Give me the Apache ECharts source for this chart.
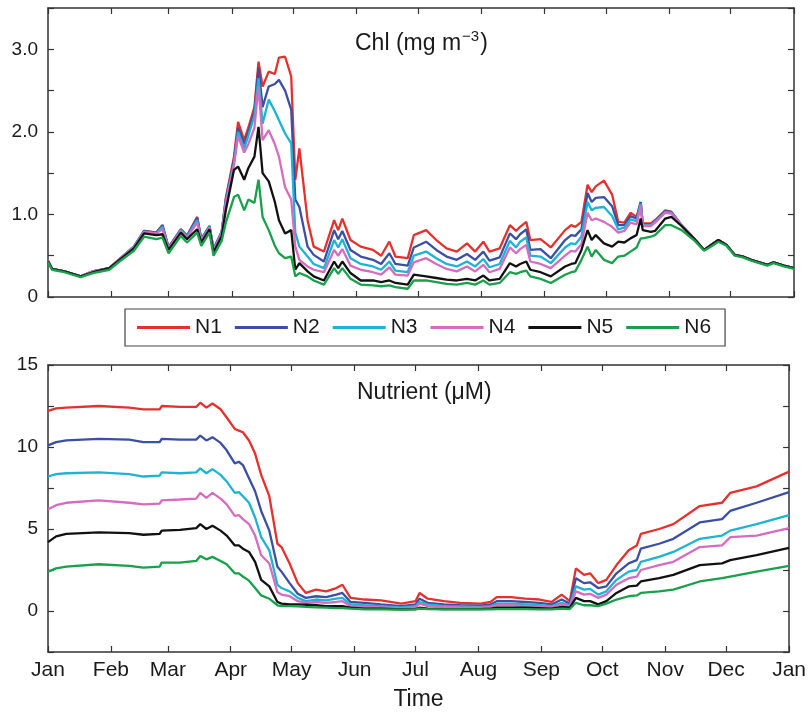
<!DOCTYPE html>
<html>
<head>
<meta charset="utf-8">
<script src="https://cdn.jsdelivr.net/npm/echarts@6.0.0/dist/echarts.min.js"></script>
<style>
    html, body {margin:0;padding:0;background:#ffffff;}
    #chart {width:809px;height:712px;}
</style>
</head>
<body>
<div id="chart"></div>
<script>
// month ticks (day of year) and their labels
var monthDays = [0, 31, 59, 90, 120, 151, 181, 212, 243, 273, 304, 334, 365];
var monthNames = ['Jan', 'Feb', 'Mar', 'Apr', 'May', 'Jun', 'Jul', 'Aug', 'Sep', 'Oct', 'Nov', 'Dec', 'Jan'];
var seriesNames = ['N1', 'N2', 'N3', 'N4', 'N5', 'N6'];

// Chl (mg m-3)
var chlDays = [0,2,8,16,22,30,35,42,47,53, 56,59,65,68,73,75,79,81,85,87,
    91,93,96,98,101,103,105,108,111,113, 116,119,121,123,127,130,135,140,142,144,
    148,153,159,163,167,170,176,179,185,190, 195,200,205,209,213,216,221,226,229,231,
    234,236,241,246,253,256,258,261,264,266, 268,272,276,279,282,285,288,290,291,295,
    297,302,305,310,316,321,325,328,332,336, 340,344,348,352,355,360,365];
var chlN1 = [0.44,0.34,0.31,0.25,0.31,0.35,0.46,0.61,0.80,0.78, 0.87,0.60,0.82,0.74,0.97,0.70,0.86,0.58,0.79,1.20,
    1.70,2.12,1.90,2.05,2.30,2.85,2.55,2.73,2.70,2.90, 2.91,2.67,1.42,1.80,0.93,0.61,0.55,0.93,0.81,0.95,
    0.69,0.61,0.57,0.50,0.67,0.49,0.47,0.75,0.81,0.69, 0.59,0.55,0.65,0.55,0.67,0.55,0.59,0.87,0.80,0.85,
    0.91,0.69,0.70,0.60,0.81,0.87,0.85,0.91,1.36,1.27, 1.34,1.41,1.24,0.91,0.90,1.02,0.97,1.15,0.89,0.89,
    0.93,1.05,1.03,0.87,0.71,0.57,0.64,0.69,0.63,0.51, 0.49,0.45,0.42,0.39,0.42,0.38,0.35];
var chlN2 = [0.44,0.34,0.31,0.25,0.31,0.35,0.46,0.61,0.80,0.78, 0.87,0.60,0.82,0.74,0.96,0.70,0.86,0.58,0.79,1.18,
    1.66,2.05,1.85,2.00,2.25,2.78,2.30,2.55,2.58,2.63, 2.50,2.27,1.18,1.09,0.61,0.51,0.43,0.81,0.70,0.80,
    0.57,0.49,0.45,0.40,0.53,0.40,0.38,0.60,0.67,0.57, 0.49,0.45,0.52,0.45,0.55,0.44,0.48,0.77,0.70,0.76,
    0.82,0.57,0.58,0.47,0.69,0.75,0.74,0.82,1.26,1.15, 1.20,1.21,1.10,0.87,0.87,0.98,0.95,1.15,0.88,0.88,
    0.92,1.04,1.03,0.87,0.71,0.57,0.64,0.69,0.63,0.51, 0.49,0.45,0.42,0.39,0.42,0.38,0.35];
var chlN3 = [0.44,0.34,0.31,0.25,0.31,0.35,0.46,0.61,0.79,0.77, 0.85,0.59,0.81,0.73,0.93,0.69,0.85,0.57,0.78,1.15,
    1.62,2.00,1.80,1.95,2.20,2.65,2.10,2.39,2.25,2.14, 1.98,1.86,0.78,0.61,0.49,0.40,0.35,0.69,0.60,0.70,
    0.47,0.40,0.37,0.33,0.43,0.32,0.30,0.50,0.55,0.47, 0.40,0.37,0.43,0.37,0.46,0.36,0.40,0.68,0.60,0.67,
    0.72,0.50,0.49,0.41,0.60,0.65,0.64,0.73,1.15,1.05, 1.08,1.09,0.98,0.82,0.84,0.94,0.92,1.13,0.87,0.87,
    0.91,1.03,1.02,0.87,0.71,0.57,0.64,0.69,0.63,0.51, 0.49,0.45,0.42,0.39,0.42,0.38,0.35];
var chlN4 = [0.44,0.34,0.31,0.25,0.31,0.35,0.46,0.60,0.79,0.77, 0.82,0.59,0.80,0.72,0.90,0.68,0.84,0.56,0.77,1.12,
    1.60,1.95,1.75,1.85,2.05,2.55,1.90,2.02,1.85,1.70, 1.33,1.18,0.61,0.45,0.37,0.33,0.30,0.57,0.50,0.58,
    0.38,0.33,0.30,0.27,0.36,0.27,0.26,0.42,0.47,0.40, 0.34,0.31,0.37,0.31,0.39,0.30,0.34,0.60,0.53,0.58,
    0.63,0.43,0.40,0.35,0.50,0.56,0.55,0.64,1.02,0.93, 0.95,0.91,0.85,0.78,0.80,0.90,0.88,1.10,0.86,0.86,
    0.90,1.02,1.01,0.87,0.71,0.57,0.64,0.69,0.63,0.51, 0.49,0.45,0.42,0.39,0.42,0.38,0.35];
var chlN5 = [0.43,0.34,0.31,0.25,0.30,0.35,0.45,0.59,0.77,0.75, 0.76,0.57,0.78,0.70,0.82,0.66,0.82,0.54,0.74,1.05,
    1.54,1.58,1.42,1.56,1.70,2.06,1.50,1.40,1.15,0.93, 0.77,0.81,0.33,0.41,0.31,0.25,0.20,0.43,0.35,0.43,
    0.29,0.20,0.20,0.18,0.20,0.17,0.15,0.27,0.25,0.23, 0.21,0.20,0.22,0.20,0.26,0.20,0.22,0.41,0.37,0.40,
    0.43,0.33,0.30,0.25,0.37,0.40,0.41,0.57,0.81,0.69, 0.75,0.65,0.61,0.67,0.66,0.71,0.75,0.95,0.81,0.79,
    0.80,0.95,0.97,0.86,0.71,0.57,0.64,0.69,0.63,0.51, 0.49,0.45,0.42,0.39,0.42,0.38,0.35];
var chlN6 = [0.42,0.33,0.30,0.24,0.29,0.33,0.43,0.56,0.73,0.70, 0.72,0.53,0.74,0.66,0.78,0.62,0.78,0.50,0.68,0.90,
    1.21,1.24,1.05,1.18,1.14,1.42,0.97,0.81,0.62,0.53, 0.47,0.49,0.25,0.29,0.25,0.20,0.15,0.35,0.28,0.35,
    0.22,0.15,0.14,0.13,0.14,0.12,0.10,0.20,0.20,0.18, 0.16,0.15,0.17,0.15,0.20,0.15,0.17,0.30,0.28,0.30,
    0.32,0.25,0.22,0.17,0.27,0.30,0.31,0.45,0.61,0.49, 0.57,0.45,0.41,0.49,0.50,0.55,0.60,0.71,0.71,0.73,
    0.75,0.87,0.87,0.81,0.69,0.56,0.62,0.67,0.62,0.50, 0.48,0.44,0.41,0.38,0.41,0.37,0.34];

// Nutrient (uM)
var nutDays = [0,4,9,25,40,47,55,56,65,73, 75,78,81,85,88,92,94,96,99,102,
    105,109,113,115,119,123,127,132,137,142, 145,149,156,164,174,181,183,187,195,203,
    213,218,221,228,235,242,248,253,257,260, 264,267,271,275,280,286,290,292,301,308,
    321,332,336,349,365];
var nutN1 = [12.2,12.35,12.4,12.5,12.4,12.3,12.3,12.5,12.45,12.45, 12.7,12.4,12.65,12.3,11.8,11.1,11.0,10.9,10.4,9.6,
    8.3,7.0,4.1,3.9,2.9,1.7,1.1,1.3,1.2,1.4, 1.6,0.8,0.7,0.65,0.45,0.6,1.1,0.75,0.6,0.5,
    0.45,0.55,0.85,0.85,0.75,0.7,0.55,1.0,0.6,2.6, 2.2,2.3,1.7,1.9,2.8,3.7,4.0,4.7,5.0,5.3,
    6.4,6.6,7.2,7.6,8.5];
var nutN2 = [10.1,10.3,10.4,10.5,10.45,10.3,10.3,10.5,10.45,10.45, 10.7,10.4,10.6,10.25,9.8,9.0,9.1,8.9,8.1,7.3,
    6.1,4.9,2.7,2.4,1.7,1.05,0.8,0.9,0.85,1.0, 1.1,0.55,0.5,0.4,0.3,0.4,0.75,0.5,0.4,0.35,
    0.32,0.4,0.6,0.6,0.55,0.5,0.4,0.7,0.45,2.0, 1.7,1.75,1.4,1.5,2.3,2.9,3.1,3.8,4.1,4.4,
    5.4,5.6,6.1,6.6,7.25];
var nutN3 = [8.2,8.35,8.4,8.45,8.35,8.2,8.25,8.45,8.4,8.45, 8.7,8.4,8.65,8.3,7.9,7.2,7.25,7.0,6.6,5.7,
    4.5,3.7,1.6,1.4,1.2,0.8,0.6,0.7,0.65,0.75, 0.8,0.4,0.35,0.3,0.22,0.3,0.55,0.4,0.3,0.28,
    0.25,0.3,0.45,0.45,0.4,0.35,0.3,0.5,0.35,1.5, 1.3,1.35,1.0,1.2,1.9,2.4,2.5,3.0,3.3,3.6,
    4.4,4.6,4.9,5.3,5.85];
var nutN4 = [6.2,6.45,6.6,6.75,6.6,6.5,6.55,6.75,6.8,6.85, 7.2,6.9,7.2,6.85,6.5,5.8,5.85,5.6,5.3,4.6,
    3.4,2.9,1.15,1.0,0.9,0.6,0.5,0.55,0.5,0.55, 0.6,0.3,0.25,0.22,0.18,0.22,0.45,0.3,0.25,0.22,
    0.2,0.25,0.35,0.35,0.3,0.28,0.25,0.4,0.28,1.2, 1.0,1.05,0.8,1.0,1.6,2.0,2.1,2.5,2.8,3.0,
    3.9,4.0,4.5,4.6,5.05];
var nutN5 = [4.2,4.55,4.7,4.8,4.75,4.65,4.7,4.9,4.95,5.05, 5.3,5.0,5.2,4.9,4.6,4.0,4.0,3.8,3.6,3.0,
    1.9,1.5,0.55,0.45,0.4,0.4,0.38,0.35,0.3,0.3, 0.3,0.2,0.15,0.15,0.1,0.12,0.2,0.15,0.12,0.12,
    0.12,0.15,0.2,0.2,0.2,0.18,0.15,0.25,0.2,0.8, 0.6,0.6,0.4,0.6,1.1,1.5,1.55,1.8,2.0,2.2,
    2.8,2.9,3.1,3.4,3.85];
var nutN6 = [2.4,2.6,2.7,2.85,2.75,2.65,2.7,2.95,2.95,3.05, 3.35,3.15,3.3,3.05,2.85,2.3,2.3,2.1,1.85,1.4,
    0.95,0.75,0.35,0.3,0.3,0.28,0.25,0.22,0.2,0.18, 0.18,0.15,0.1,0.1,0.08,0.1,0.15,0.12,0.1,0.1,
    0.1,0.1,0.12,0.12,0.12,0.1,0.1,0.15,0.12,0.5, 0.35,0.35,0.3,0.45,0.7,0.9,0.95,1.1,1.2,1.3,
    1.8,2.0,2.1,2.4,2.75];

var colors = ['#e5312e', '#3b4fa3', '#1db3d3', '#d56cbf', '#111111', '#19a04b'];
var chlData = [chlN1, chlN2, chlN3, chlN4, chlN5, chlN6];
var nutData = [nutN1, nutN2, nutN3, nutN4, nutN5, nutN6];

var font = 'Liberation Sans';
var axisColor = '#333';

function pairs(days, vals) {
    var out = [];
    for (var i = 0; i < days.length; i++) out.push([days[i], vals[i]]);
    return out;
}

// x axis with month ticks pointing inward
function xAxisFor(grid, pos, withLabels) {
    return {
        type: 'value', gridIndex: grid, position: pos, min: 0, max: 365,
        axisLine: {show: true, onZero: false, lineStyle: {color: axisColor, width: 1.5}},
        axisTick: {show: true, inside: true, length: 6, customValues: monthDays,
            lineStyle: {color: axisColor, width: 1.2}},
        axisLabel: {show: withLabels, customValues: monthDays, margin: 8,
            fontFamily: font, fontSize: 21, color: '#1a1a1a',
            formatter: function (v) { return monthNames[monthDays.indexOf(Math.round(v))] || ''; }},
        splitLine: {show: false},
        name: withLabels ? 'Time' : '', nameLocation: 'middle', nameGap: 36,
        nameTextStyle: {fontFamily: font, fontSize: 23, color: '#1a1a1a'}
    };
}

function yAxisFor(grid, pos, min, max, step, fmt) {
    return {
        type: 'value', gridIndex: grid, position: pos, min: min, max: max, interval: step,
        axisLine: {show: true, onZero: false, lineStyle: {color: axisColor, width: 1.5}},
        axisTick: {show: true, inside: true, length: 6, lineStyle: {color: axisColor, width: 1.2}},
        axisLabel: {show: !!fmt, margin: 10, fontFamily: font, fontSize: 19, color: '#1a1a1a',
            formatter: fmt},
        splitLine: {show: false}
    };
}

var series = [];
for (var k = 0; k < 6; k++) {
    series.push({
        name: seriesNames[k], type: 'line', xAxisIndex: 0, yAxisIndex: 0,
        data: pairs(chlDays, chlData[k]), showSymbol: false, symbol: 'none',
        lineStyle: {width: 2.3, color: colors[k]}, itemStyle: {color: colors[k]}, animation: false
    });
}
for (var k = 0; k < 6; k++) {
    series.push({
        name: seriesNames[k], type: 'line', xAxisIndex: 2, yAxisIndex: 2,
        data: pairs(nutDays, nutData[k]), showSymbol: false, symbol: 'none',
        lineStyle: {width: 2.3, color: colors[k]}, itemStyle: {color: colors[k]}, animation: false
    });
}

var myChart = echarts.init(document.getElementById('chart'), null, {renderer: 'canvas'});
var option = {
    backgroundColor: '#ffffff',
    animation: false,
    grid: [
        {left: 48, top: 8, width: 746, height: 289},
        {left: 48, top: 365, width: 746, height: 287}
    ],
    xAxis: [
        xAxisFor(0, 'bottom', false),
        xAxisFor(0, 'top', false),
        xAxisFor(1, 'bottom', true),
        xAxisFor(1, 'top', false)
    ],
    yAxis: [
        yAxisFor(0, 'left', 0, 3.5, 0.5, function (v) {
            if (v === 0) return '0';
            return Math.abs(v - Math.round(v)) < 1e-6 ? v.toFixed(1) : '';
        }),
        yAxisFor(0, 'right', 0, 3.5, 0.5, null),
        yAxisFor(1, 'left', -2.5, 15, 2.5, function (v) {
            return (v >= 0 && Math.abs(v % 5) < 1e-6) ? String(v) : '';
        }),
        yAxisFor(1, 'right', -2.5, 15, 2.5, null)
    ],
    legend: {
        data: seriesNames, left: 125, top: 309,
        orient: 'horizontal', icon: 'rect', itemWidth: 53, itemHeight: 3, itemGap: 13,
        padding: [8, 14, 8, 12], borderColor: '#444', borderWidth: 1.2,
        textStyle: {fontFamily: font, fontSize: 21, color: '#1a1a1a'}
    },
    graphic: [
        {type: 'text', left: 355, top: 29, style: {
            text: '{t|Chl (mg m}{sup|−3}{t|)}',
            rich: {
                t: {fontFamily: font, fontSize: 23, lineHeight: 30, fill: '#1a1a1a', verticalAlign: 'middle'},
                sup: {fontFamily: font, fontSize: 15, lineHeight: 15, fill: '#1a1a1a', verticalAlign: 'top', padding: [0, 1, 0, 1]}
            }
        }},
        {type: 'text', left: 357, top: 381, style: {
            text: 'Nutrient (μM)', fontFamily: font, fontSize: 23, fill: '#1a1a1a'
        }}
    ],
    series: series
};
myChart.setOption(option, true);
</script>
</body>
</html>
